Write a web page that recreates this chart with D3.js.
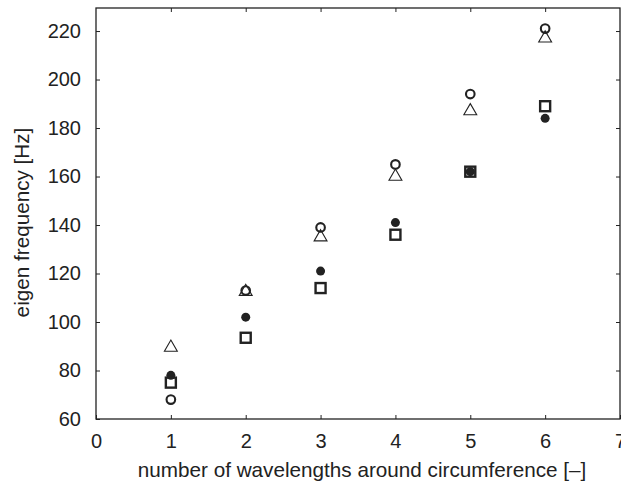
<!DOCTYPE html>
<html>
<head>
<meta charset="utf-8">
<script src="https://cdn.jsdelivr.net/npm/d3@7"></script>
<style>
  body { margin: 0; background: #fff; }
  text { font-family: "Liberation Sans", Arial, sans-serif; fill: #222; }
</style>
</head>
<body>
<svg id="chart" width="621" height="485"></svg>
<script>
// wavelengths around circumference
const waves = [1, 2, 3, 4, 5, 6];

// eigen frequencies [Hz] per series
const openCircle = [68, 113, 139, 165, 194, 221];
const triangle = [89.5, 112.5, 135, 160, 187, 217];
const filledDot = [78, 102, 121, 141, 162, 184];
const openSquare = [75, 93.5, 114, 136, 162, 189];

const xTicks = [0, 1, 2, 3, 4, 5, 6, 7];
const yTicks = [60, 80, 100, 120, 140, 160, 180, 200, 220];

const margin = {top: 8, right: 1, bottom: 66, left: 96};
const width = 621, height = 485;

const svg = d3.select('#chart');

const x = d3.scaleLinear()
    .domain([0, 7])
    .range([margin.left, width - margin.right]);

const y = d3.scaleLinear()
    .domain([60, 229.5])
    .range([height - margin.bottom, margin.top]);

const ink = '#222';
const fontSize = '20px';
const titleSize = '20.7px';

// inward ticks on all four sides
function styleAxis (g) {
    g.attr('font-size', null).attr('font-family', null);
    g.select('.domain').remove();
    g.selectAll('.tick line').attr('stroke', ink).attr('stroke-width', 1);
    g.selectAll('.tick text')
        .style('font-size', fontSize)
        .attr('fill', ink);
}

svg.append('g')
    .attr('transform', `translate(0,${y.range()[0]})`)
    .call(d3.axisBottom(x).tickValues(xTicks).tickSize(-4).tickPadding(15).tickFormat(d3.format('d')))
    .call(styleAxis)
    .call(g => g.selectAll('.tick text').attr('dy', '0.72em'));

svg.append('g')
    .attr('transform', `translate(0,${y.range()[1]})`)
    .call(d3.axisTop(x).tickValues(xTicks.slice(1, -1)).tickSize(-4).tickFormat(''))
    .call(styleAxis);

svg.append('g')
    .attr('transform', `translate(${x.range()[0]},0)`)
    .call(d3.axisLeft(y).tickValues(yTicks).tickSize(-4).tickPadding(15).tickFormat(d3.format('d')))
    .call(styleAxis);

svg.append('g')
    .attr('transform', `translate(${x.range()[1]},0)`)
    .call(d3.axisRight(y).tickValues(yTicks.slice(1)).tickSize(-4).tickFormat(''))
    .call(styleAxis);

// frame
svg.append('rect')
    .attr('x', x.range()[0])
    .attr('y', y.range()[1])
    .attr('width', x.range()[1] - x.range()[0])
    .attr('height', y.range()[0] - y.range()[1])
    .attr('fill', 'none')
    .attr('stroke', ink)
    .attr('stroke-width', 1.3);

// axis titles
svg.append('text')
    .attr('x', (x.range()[0] + x.range()[1]) / 2 + 4)
    .attr('y', 477)
    .attr('text-anchor', 'middle')
    .style('font-size', titleSize)
    .text('number of wavelengths around circumference [\u2013]');

svg.append('text')
    .attr('transform', `translate(29,${(y.range()[0] + y.range()[1]) / 2 + 9}) rotate(-90)`)
    .attr('text-anchor', 'middle')
    .style('font-size', titleSize)
    .text('eigen frequency [Hz]');

// markers
const pts = vals => waves.map((w, i) => ({w, v: vals[i]}));
const marks = svg.append('g');

marks.selectAll('.tri')
    .data(pts(triangle))
    .join('path')
    .attr('class', 'tri')
    .attr('d', d3.symbol(d3.symbolTriangle, 72))
    .attr('transform', d => `translate(${x(d.w)},${y(d.v)})`)
    .attr('fill', 'none')
    .attr('stroke', ink)
    .attr('stroke-width', 1.1);

marks.selectAll('.sq')
    .data(pts(openSquare))
    .join('rect')
    .attr('class', 'sq')
    .attr('x', d => x(d.w) - 5)
    .attr('y', d => y(d.v) - 5)
    .attr('width', 10)
    .attr('height', 10)
    .attr('fill', 'none')
    .attr('stroke', ink)
    .attr('stroke-width', 2.4);

marks.selectAll('.dot')
    .data(pts(filledDot))
    .join('circle')
    .attr('class', 'dot')
    .attr('cx', d => x(d.w))
    .attr('cy', d => y(d.v))
    .attr('r', 4.5)
    .attr('fill', ink);

marks.selectAll('.ring')
    .data(pts(openCircle))
    .join('circle')
    .attr('class', 'ring')
    .attr('cx', d => x(d.w))
    .attr('cy', d => y(d.v))
    .attr('r', 4.3)
    .attr('fill', 'none')
    .attr('stroke', ink)
    .attr('stroke-width', 2.1);
</script>
</body>
</html>
